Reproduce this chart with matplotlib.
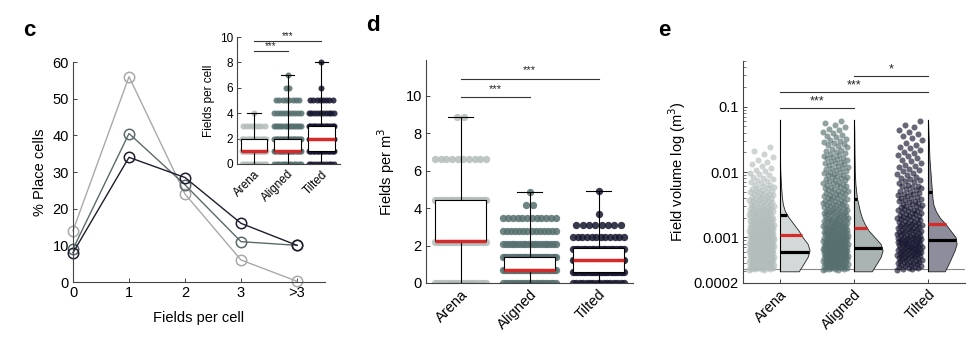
import numpy as np
import matplotlib
matplotlib.use("Agg")
import matplotlib.pyplot as plt

plt.rcParams['font.family'] = ['Liberation Sans', 'DejaVu Sans']

groups = ["Arena", "Aligned", "Tilted"]

# panel c: % of place cells by number of fields
c_bins = ["0", "1", "2", "3", ">3"]
c_arena = [14, 56, 24, 6, 0.2]
c_aligned = [9, 40.5, 26.5, 11, 10]
c_tilted = [8, 34, 28.5, 16, 10]

# inset c: fields per cell (value levels and how many cells sit on each)
ins_arena_lv = [0, 1, 2, 3, 4]
ins_arena_n = [12, 25, 15, 8, 1]
ins_aligned_lv = [0, 1, 2, 3, 4, 5, 6, 7]
ins_aligned_n = [12, 25, 20, 14, 10, 8, 2, 1]
ins_tilted_lv = [0, 1, 2, 3, 4, 5, 6, 8]
ins_tilted_n = [10, 20, 20, 16, 10, 8, 1, 1]
# whislo, q1, median, q3, whishi
ins_box = [[0, 1, 1, 2, 4], [0, 1, 1, 2, 7], [0, 1, 2, 3, 8]]

# panel d: fields per m^3
d_arena_lv = [0, 2.21, 4.42, 6.63, 8.84]
d_arena_n = [20, 20, 22, 10, 2]
d_aligned_lv = [0, 0.69, 1.38, 2.07, 2.76, 3.45, 4.14, 4.83]
d_aligned_n = [22, 28, 26, 20, 14, 12, 2, 1]
d_tilted_lv = [0, 0.61, 1.23, 1.84, 2.45, 3.07, 3.68, 4.9]
d_tilted_n = [16, 24, 24, 20, 12, 8, 1, 1]
d_box = [[0, 2.23, 2.23, 4.43, 8.86], [0, 0.70, 0.70, 1.39, 4.85], [0, 0.60, 1.23, 1.86, 4.92]]

# panel e: field volume, counts per log10 bin (lower edges, bin width 0.1)
e_bin_lo = [-3.5, -3.4, -3.3, -3.2, -3.1, -3.0, -2.9, -2.8, -2.7, -2.6, -2.5, -2.4,
            -2.3, -2.2, -2.1, -2.0, -1.9, -1.8, -1.7, -1.6, -1.5, -1.4, -1.3]
e_arena_n = [28, 30, 32, 32, 30, 27, 24, 21, 18, 16, 13, 11, 9, 6, 5, 4, 3, 2, 2, 0, 0, 0, 0]
e_aligned_n = [24, 27, 30, 30, 27, 24, 21, 18, 16, 14, 12, 11, 10, 9, 9, 8, 8, 7, 6, 6, 5, 4, 3]
e_tilted_n = [13, 15, 18, 18, 18, 15, 14, 13, 11, 10, 9, 8, 7, 6, 5, 5, 4, 4, 4, 3, 3, 3, 2]
# half violin density profile (relative), at log10 levels
e_prof_lv = [-3.52, -3.4, -3.3, -3.2, -3.1, -3.0, -2.9, -2.8, -2.7, -2.6, -2.5, -2.4,
             -2.2, -2.0, -1.8, -1.6, -1.4, -1.2]
e_arena_dens = [19, 24, 28, 30, 28, 23, 19, 14, 9, 5, 3, 2, 1, 0.3, 0, 0, 0, 0]
e_aligned_dens = [18, 23, 27, 29, 27, 21, 15, 11, 8, 6, 4.5, 3, 1.5, 0.8, 0.6, 0.4, 0.3, 0]
e_tilted_dens = [17, 21, 24, 27, 29, 28, 23, 18, 12, 8, 5.5, 4.5, 3.5, 2.5, 1.5, 1, 0.5, 0]
e_upper = [0.0022, 0.0038, 0.0049]
e_mean = [0.00107, 0.00137, 0.00158]
e_lower = [0.00059, 0.00068, 0.00090]
e_floor = 0.000325

line_cols = ["#a9a9a9", "#5b6a6a", "#1d1d2d"]
dot_cols = ["#b3bebc", "#56706f", "#16162f"]
fill_cols = ["#d3d9d9", "#aab5b3", "#8e8d9b"]
RED = "#d42a2a"
AX = "#444444"


def style(ax):
    for s in ["top", "right"]:
        ax.spines[s].set_visible(False)
    for s in ["left", "bottom"]:
        ax.spines[s].set_color(AX)
        ax.spines[s].set_linewidth(0.8)
    ax.tick_params(direction="in", length=3, width=0.7, color=AX, pad=3)


def strip(ax, x0, levels, counts, color, hw, s, alpha=0.85):
    for lev, n in zip(levels, counts):
        w = hw * min(1.0, (n - 1) / 8.0)
        xs = x0 + np.linspace(-w, w, n)
        ax.scatter(xs, np.full(n, lev), s=s, color=color, alpha=alpha, lw=0, zorder=2)


def boxes(ax, rows, width, capw):
    stats = [dict(whislo=r[0], q1=r[1], med=r[2], q3=r[3], whishi=r[4], fliers=[]) for r in rows]
    ax.bxp(stats, positions=[1, 2, 3], widths=width, patch_artist=True, showfliers=False,
           capwidths=capw, zorder=3,
           boxprops=dict(facecolor="white", edgecolor="black", lw=0.8),
           medianprops=dict(color=RED, lw=2.5, solid_capstyle="butt"),
           whiskerprops=dict(color="black", lw=0.8),
           capprops=dict(color="black", lw=0.8))


def sig(ax, x1, x2, y, txt, dy, fs=9):
    ax.plot([x1, x2], [y, y], color="#333333", lw=0.8, zorder=4)
    ax.text((x1 + x2) / 2, dy, txt, ha="center", va="center", fontsize=fs, color="#222222")


fig = plt.figure(figsize=(9.75, 3.49), dpi=100)

# ---------------- panel c
ax = fig.add_axes([73 / 975, 1 - 282 / 349, 252 / 975, 220 / 349])
style(ax)
x = np.arange(len(c_bins))
for vals, col in zip([c_arena, c_aligned, c_tilted], line_cols):
    ax.plot(x, vals, color=col, lw=1, marker="o", ms=7.5, mfc="none", mec=col, mew=1.1,
            clip_on=False)
ax.set_xlim(0, 4.5)
ax.set_ylim(0, 60)
ax.set_xticks(x)
ax.set_xticklabels(c_bins, fontsize=10)
ax.set_yticks(range(0, 61, 10))
ax.tick_params(labelsize=10.5)
ax.set_xlabel("Fields per cell", fontsize=10.5, labelpad=8)
ax.set_ylabel("% Place cells", fontsize=10.5, labelpad=4)

# inset
ai = fig.add_axes([237 / 975, 1 - 164 / 349, 103 / 975, 127 / 349])
ai.set_facecolor("none")
style(ai)
strip(ai, 1, ins_arena_lv, ins_arena_n, dot_cols[0], 0.36, 19)
strip(ai, 2, ins_aligned_lv, ins_aligned_n, dot_cols[1], 0.40, 19)
strip(ai, 3, ins_tilted_lv, ins_tilted_n, dot_cols[2], 0.38, 19)
boxes(ai, ins_box, 0.78, 0.4)
sig(ai, 1, 2, 8.9, "***", 9.25, 7)
sig(ai, 1, 3, 9.7, "***", 10.05, 7)
ai.set_xlim(0.5, 3.55)
ai.set_ylim(0, 10)
ai.set_yticks(range(0, 11, 2))
ai.set_xticks([1, 2, 3])
ai.set_xticklabels(groups, rotation=45, ha="right", rotation_mode="anchor", fontsize=8.5)
ai.tick_params(labelsize=8.5)
ai.set_ylabel("Fields per cell", fontsize=8.5, labelpad=3)

# ---------------- panel d
ad = fig.add_axes([426 / 975, 1 - 283 / 349, 207 / 975, 223 / 349])
style(ad)
strip(ad, 1, d_arena_lv, d_arena_n, dot_cols[0], 0.37, 28)
strip(ad, 2, d_aligned_lv, d_aligned_n, dot_cols[1], 0.38, 28)
strip(ad, 3, d_tilted_lv, d_tilted_n, dot_cols[2], 0.37, 28)
boxes(ad, d_box, 0.75, 0.35)
sig(ad, 1, 2, 9.9, "***", 10.35, 8)
sig(ad, 1, 3, 10.9, "***", 11.35, 8)
ad.set_xlim(0.5, 3.5)
ad.set_ylim(0, 11.9)
ad.set_yticks(range(0, 11, 2))
ad.set_xticks([1, 2, 3])
ad.set_xticklabels(groups, rotation=45, ha="right", rotation_mode="anchor", fontsize=10.5)
ad.tick_params(labelsize=10.5)
ad.set_ylabel("Fields per m$^3$", fontsize=10.5, labelpad=6)

# ---------------- panel e
ae = fig.add_axes([743 / 975, 1 - 283 / 349, 222 / 975, 222 / 349])
style(ae)
ae.set_yscale("log")
gold = 0.6180339887
for gi, counts in enumerate([e_arena_n, e_aligned_n, e_tilted_n]):
    x0 = gi + 1
    xs, ys = [], []
    k = 0
    for lo, n in zip(e_bin_lo, counts):
        for j in range(n):
            xs.append(x0 - 0.42 + 0.34 * ((k * gold) % 1.0))
            ys.append(10 ** (lo + 0.1 * (j + 0.5) / n))
            k += 1
    ae.scatter(xs, ys, s=19, color=dot_cols[gi], alpha=0.65, lw=0, zorder=2)

lv = np.array(e_prof_lv)
for gi, dens in enumerate([e_arena_dens, e_aligned_dens, e_tilted_dens]):
    x0 = gi + 1
    wd = np.array(dens) / 30.0 * 0.40
    yy = 10 ** lv
    ae.fill_betweenx(yy, x0, x0 + wd, facecolor=fill_cols[gi], edgecolor="#222222", lw=0.6, zorder=3)
    ae.plot([x0, x0], [10 ** lv[0], 0.063], color="black", lw=0.8, zorder=4)
    for val, col in [(e_upper[gi], "black"), (e_mean[gi], RED), (e_lower[gi], "black")]:
        w = np.interp(np.log10(val), lv, wd)
        ae.plot([x0, x0 + w], [val, val], color=col, lw=2.3, solid_capstyle="butt", zorder=5)
ae.axhline(e_floor, color="#888888", lw=0.8, zorder=1)
ae.plot([1, 2], [0.097, 0.097], color="#333333", lw=0.8)
ae.text(1.5, 0.121, "***", ha="center", va="center", fontsize=9, color="#222222")
ae.plot([1, 3], [0.17, 0.17], color="#333333", lw=0.8)
ae.text(2.0, 0.212, "***", ha="center", va="center", fontsize=9, color="#222222")
ae.plot([2, 3], [0.295, 0.295], color="#333333", lw=0.8)
ae.text(2.5, 0.37, "*", ha="center", va="center", fontsize=9, color="#222222")
ae.set_xlim(0.5, 3.5)
ae.set_ylim(0.0002, 0.5)
ae.set_yticks([0.0002, 0.001, 0.01, 0.1])
ae.set_yticklabels(["0.0002", "0.001", "0.01", "0.1"])
ae.tick_params(which="minor", direction="in", length=1.8, width=0.5, color=AX)
ae.set_xticks([1, 2, 3])
ae.set_xticklabels(groups, rotation=45, ha="right", rotation_mode="anchor", fontsize=10.5)
ae.tick_params(labelsize=10.5)
ae.set_ylabel("Field volume log (m$^3$)", fontsize=10.5, labelpad=4)

# panel letters
fig.text(23 / 975, 1 - 36 / 349, "c", fontsize=16, fontweight="bold")
fig.text(366 / 975, 1 - 31 / 349, "d", fontsize=16, fontweight="bold")
fig.text(658 / 975, 1 - 36 / 349, "e", fontsize=16, fontweight="bold")

fig.savefig("out.png", dpi=100)
